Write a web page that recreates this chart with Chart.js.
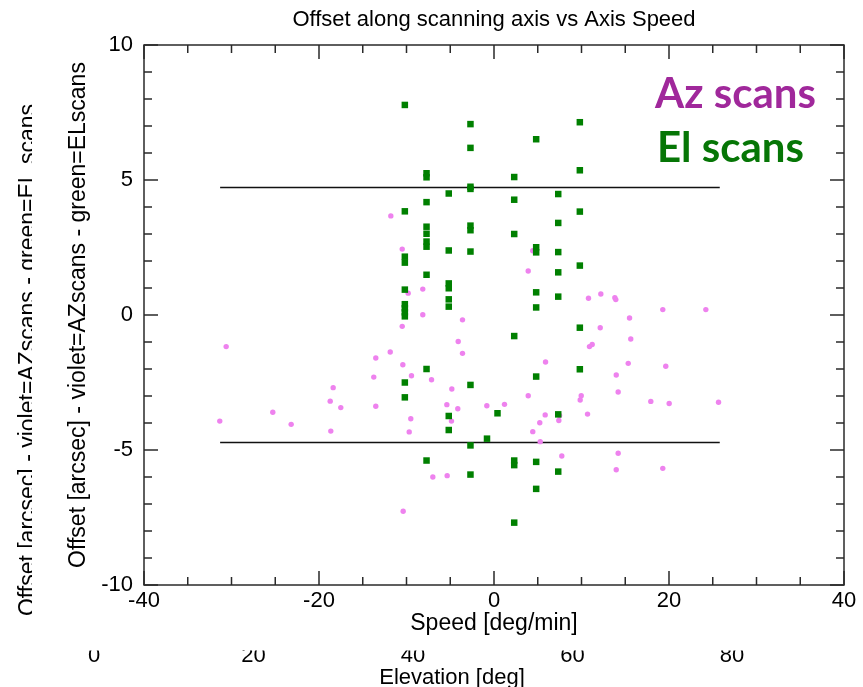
<!DOCTYPE html>
<html>
<head>
<meta charset="utf-8">
<script src="https://cdn.jsdelivr.net/npm/chart.js@4.4.1/dist/chart.umd.min.js"></script>
<style>
  html, body { margin: 0; padding: 0; background: #fff; }
  #wrap { position: relative; width: 863px; height: 687px; }
</style>
</head>
<body>
<div id="wrap"><canvas id="chart"></canvas></div>
<script>
// DATOS: El scans (cuadrados verdes)
const elSpeed = [
  -10.19, -10.19, -10.19, -10.19, -10.19, -10.19, -10.19, -10.19, -10.19, -10.19, -10.19,
  -7.71, -7.71, -7.71, -7.71, -7.71, -7.71, -7.71, -7.71, -7.71, -7.71,
  -5.17, -5.17, -5.17, -5.17, -5.17, -5.17, -5.17, -5.17,
  -2.69, -2.69, -2.69, -2.69, -2.69, -2.69, -2.69, -2.69, -2.69, -2.69,
  -0.8, 0.4,
  2.31, 2.31, 2.31, 2.31, 2.31, 2.31, 2.31,
  4.82, 4.82, 4.82, 4.82, 4.82, 4.82, 4.82, 4.82,
  7.34, 7.34, 7.34, 7.34, 7.34, 7.34, 7.34,
  9.81, 9.81, 9.81, 9.81, 9.81, 9.81
];
const elOffset = [
  7.78, 3.84, 2.16, 1.94, 0.94, 0.4, 0.25, 0.1, -0.05, -2.5, -3.05,
  5.25, 5.10, 4.18, 3.27, 3.01, 2.72, 2.53, 1.49, -2.0, -5.39,
  4.5, 2.39, 1.17, 0.99, 0.58, 0.31, -3.74, -4.26,
  7.07, 6.19, 4.75, 4.67, 3.31, 3.14, 2.35, -2.59, -4.83, -5.91,
  -4.58, -3.64,
  5.11, 4.27, 3.0, -0.78, -5.39, -5.56, -7.69,
  6.51, 2.51, 2.32, 0.84, 0.28, -2.28, -5.44, -6.44,
  4.48, 3.41, 2.33, 1.58, 0.68, -3.68, -5.8,
  7.14, 5.36, 3.83, 1.83, -0.47, -2.01
];

// DATOS: Az scans (circulos violeta)
const azSpeed = [
  -11.79, -10.49, -9.81, -8.14, -8.14, -3.6, 4.43, 3.91, 10.8, 12.21,
  13.81, 13.92, 19.29, 24.21, 15.49, 12.14, 15.63, 10.91, 11.22, 5.89,
  15.34, 19.63, 13.97, 3.91, 9.97, 9.85, 14.19, 17.92, 20.02, 25.66,
  -0.82, 1.2, 5.85, 7.49, 7.41, 10.69, 5.23, 4.43, 5.28, 7.75,
  14.19, 13.97, 19.29, -10.49, -4.09, -3.6, -30.61, -11.86, -13.51, -10.42,
  -9.43, -13.74, -7.14, -18.38, -4.82, -18.72, -17.51, -13.51, -5.39, -4.14,
  -25.28, -31.34, -23.18, -9.51, -4.86, -18.65, -9.69, -6.99, -5.35, -10.38
];
const azOffset = [
  3.67, 2.44, 0.81, 0.96, 0.01, -0.18, 2.38, 1.63, 0.62, 0.78,
  0.64, 0.57, 0.2, 0.2, -0.11, -0.47, -0.89, -1.17, -1.09, -1.74,
  -1.79, -1.9, -2.22, -2.99, -2.99, -3.15, -2.85, -3.2, -3.28, -3.23,
  -3.36, -3.31, -3.7, -3.72, -3.91, -3.67, -3.99, -4.32, -4.69, -5.22,
  -5.12, -5.73, -5.68, -0.42, -0.98, -1.42, -1.17, -1.37, -1.59, -1.84,
  -2.25, -2.3, -2.4, -2.69, -2.74, -3.19, -3.43, -3.38, -3.32, -3.47,
  -3.6, -3.93, -4.05, -3.84, -3.93, -4.3, -4.33, -6.0, -5.95, -7.27
];

// LIMITES HORIZONTALES
const limitSpeed = [-31.3, 25.8];
const limitOffset = [4.72, -4.72];

// EJES
const xRange = [-40, 40];
const yRange = [-10, 10];
const xMajorStep = 20, xMinorStep = 5;
const yMajorStep = 5, yMinorStep = 1;

// EJE FANTASMA (imagen de fondo recortada)
const elevationTicks = [0, 20, 40, 60, 80];

const FONT = "'Liberation Sans', Arial, Helvetica, sans-serif";
const GREEN = '#008000';
const VIOLET = '#EE82EE';
const AXIS = '#2a2a2a';

const toPoints = (xs, ys) => xs.map((x, i) => ({ x: x, y: ys[i] }));

// PLUGIN: marco, ticks hacia adentro, textos extra
const extrasPlugin = {
  id: 'extras',
  afterDraw(chart) {
    const ctx = chart.ctx;
    const xs = chart.scales.x, ys = chart.scales.y;
    const { left, right, top, bottom } = chart.chartArea;

    ctx.save();
    ctx.strokeStyle = AXIS;
    ctx.lineWidth = 1.5;
    ctx.strokeRect(left, top, right - left, bottom - top);

    ctx.beginPath();
    for (let v = xRange[0]; v <= xRange[1]; v += xMinorStep) {
      const px = xs.getPixelForValue(v);
      const len = v % xMajorStep === 0 ? 14 : 8;
      ctx.moveTo(px, bottom); ctx.lineTo(px, bottom - len);
      ctx.moveTo(px, top); ctx.lineTo(px, top + len);
    }
    for (let v = yRange[0]; v <= yRange[1]; v += yMinorStep) {
      const py = ys.getPixelForValue(v);
      const len = v % yMajorStep === 0 ? 14 : 8;
      ctx.moveTo(left, py); ctx.lineTo(left + len, py);
      ctx.moveTo(right, py); ctx.lineTo(right - len, py);
    }
    ctx.stroke();

    // Leyenda manual
    ctx.textAlign = 'left';
    ctx.textBaseline = 'alphabetic';
    ctx.font = "bold 42px Lato, 'Open Sans', sans-serif";
    ctx.fillStyle = '#A0289B';
    ctx.fillText('Az scans', 655, 108);
    ctx.fillStyle = '#067606';
    ctx.fillText('El scans', 657, 162);

    // Eje fantasma inferior (recortado arriba)
    ctx.fillStyle = '#000';
    ctx.save();
    ctx.beginPath();
    ctx.rect(0, 650.5, chart.width, chart.height - 650.5);
    ctx.clip();
    ctx.font = '22px ' + FONT;
    ctx.textAlign = 'center';
    elevationTicks.forEach((t, i) => {
      ctx.fillText(String(t), 94 + i * 159.5, 662);
    });
    ctx.fillText('Elevation [deg]', 452, 684);
    ctx.restore();

    // Titulo fantasma izquierdo (recortado a la derecha)
    ctx.save();
    ctx.beginPath();
    ctx.rect(0, 0, 32, chart.height);
    ctx.clip();
    ctx.translate(35, 360);
    ctx.rotate(-Math.PI / 2);
    ctx.font = '23px ' + FONT;
    ctx.textAlign = 'center';
    ctx.fillText('Offset [arcsec] - violet=AZscans - green=EL scans', 0, 0);
    ctx.restore();

    ctx.restore();
  }
};

const ctx = document.getElementById('chart').getContext('2d');
const chart = new Chart(ctx, {
  type: 'scatter',
  data: {
    datasets: [
      {
        label: 'El scans',
        data: toPoints(elSpeed, elOffset),
        pointStyle: 'rect',
        pointRadius: 4.6,
        pointBorderWidth: 0,
        backgroundColor: GREEN,
        borderColor: GREEN,
        order: 0
      },
      {
        label: 'Az scans',
        data: toPoints(azSpeed, azOffset),
        pointStyle: 'circle',
        pointRadius: 2.7,
        pointBorderWidth: 0,
        backgroundColor: VIOLET,
        borderColor: VIOLET,
        order: 1
      },
      {
        label: 'upper',
        type: 'line',
        data: toPoints(limitSpeed, [limitOffset[0], limitOffset[0]]),
        borderColor: '#111',
        borderWidth: 1.5,
        pointRadius: 0,
        fill: false,
        order: 2
      },
      {
        label: 'lower',
        type: 'line',
        data: toPoints(limitSpeed, [limitOffset[1], limitOffset[1]]),
        borderColor: '#111',
        borderWidth: 1.5,
        pointRadius: 0,
        fill: false,
        order: 2
      }
    ]
  },
  options: {
    responsive: true,
    maintainAspectRatio: false,
    animation: false,
    layout: { padding: { left: 0, right: 19, top: 0, bottom: 0 } },
    plugins: {
      legend: { display: false },
      tooltip: { enabled: false },
      title: {
        display: true,
        fullSize: false,
        text: 'Offset along scanning axis vs Axis Speed',
        color: '#000',
        font: { family: FONT, size: 22, weight: 'normal' },
        padding: { top: 6.5, bottom: 12.1 }
      }
    },
    scales: {
      x: {
        type: 'linear',
        min: xRange[0],
        max: xRange[1],
        grid: { display: false, drawTicks: false },
        border: { display: false },
        ticks: { stepSize: xMajorStep, color: '#000', padding: 3, maxRotation: 0, font: { family: FONT, size: 22 } },
        title: {
          display: true,
          text: 'Speed [deg/min]',
          color: '#000',
          font: { family: FONT, size: 23 },
          padding: { top: 0, bottom: 50 }
        },
        afterFit: s => { s.height = 102; }
      },
      y: {
        type: 'linear',
        min: yRange[0],
        max: yRange[1],
        grid: { display: false, drawTicks: false },
        border: { display: false },
        ticks: { stepSize: yMajorStep, color: '#000', padding: 11, font: { family: FONT, size: 22 } },
        title: {
          display: true,
          text: 'Offset [arcsec] - violet=AZscans - green=ELscans',
          color: '#000',
          font: { family: FONT, size: 23 },
          padding: { top: 65, bottom: 0 }
        },
        afterFit: s => { s.width = 144; }
      }
    }
  },
  plugins: [extrasPlugin]
});
</script>
</body>
</html>
